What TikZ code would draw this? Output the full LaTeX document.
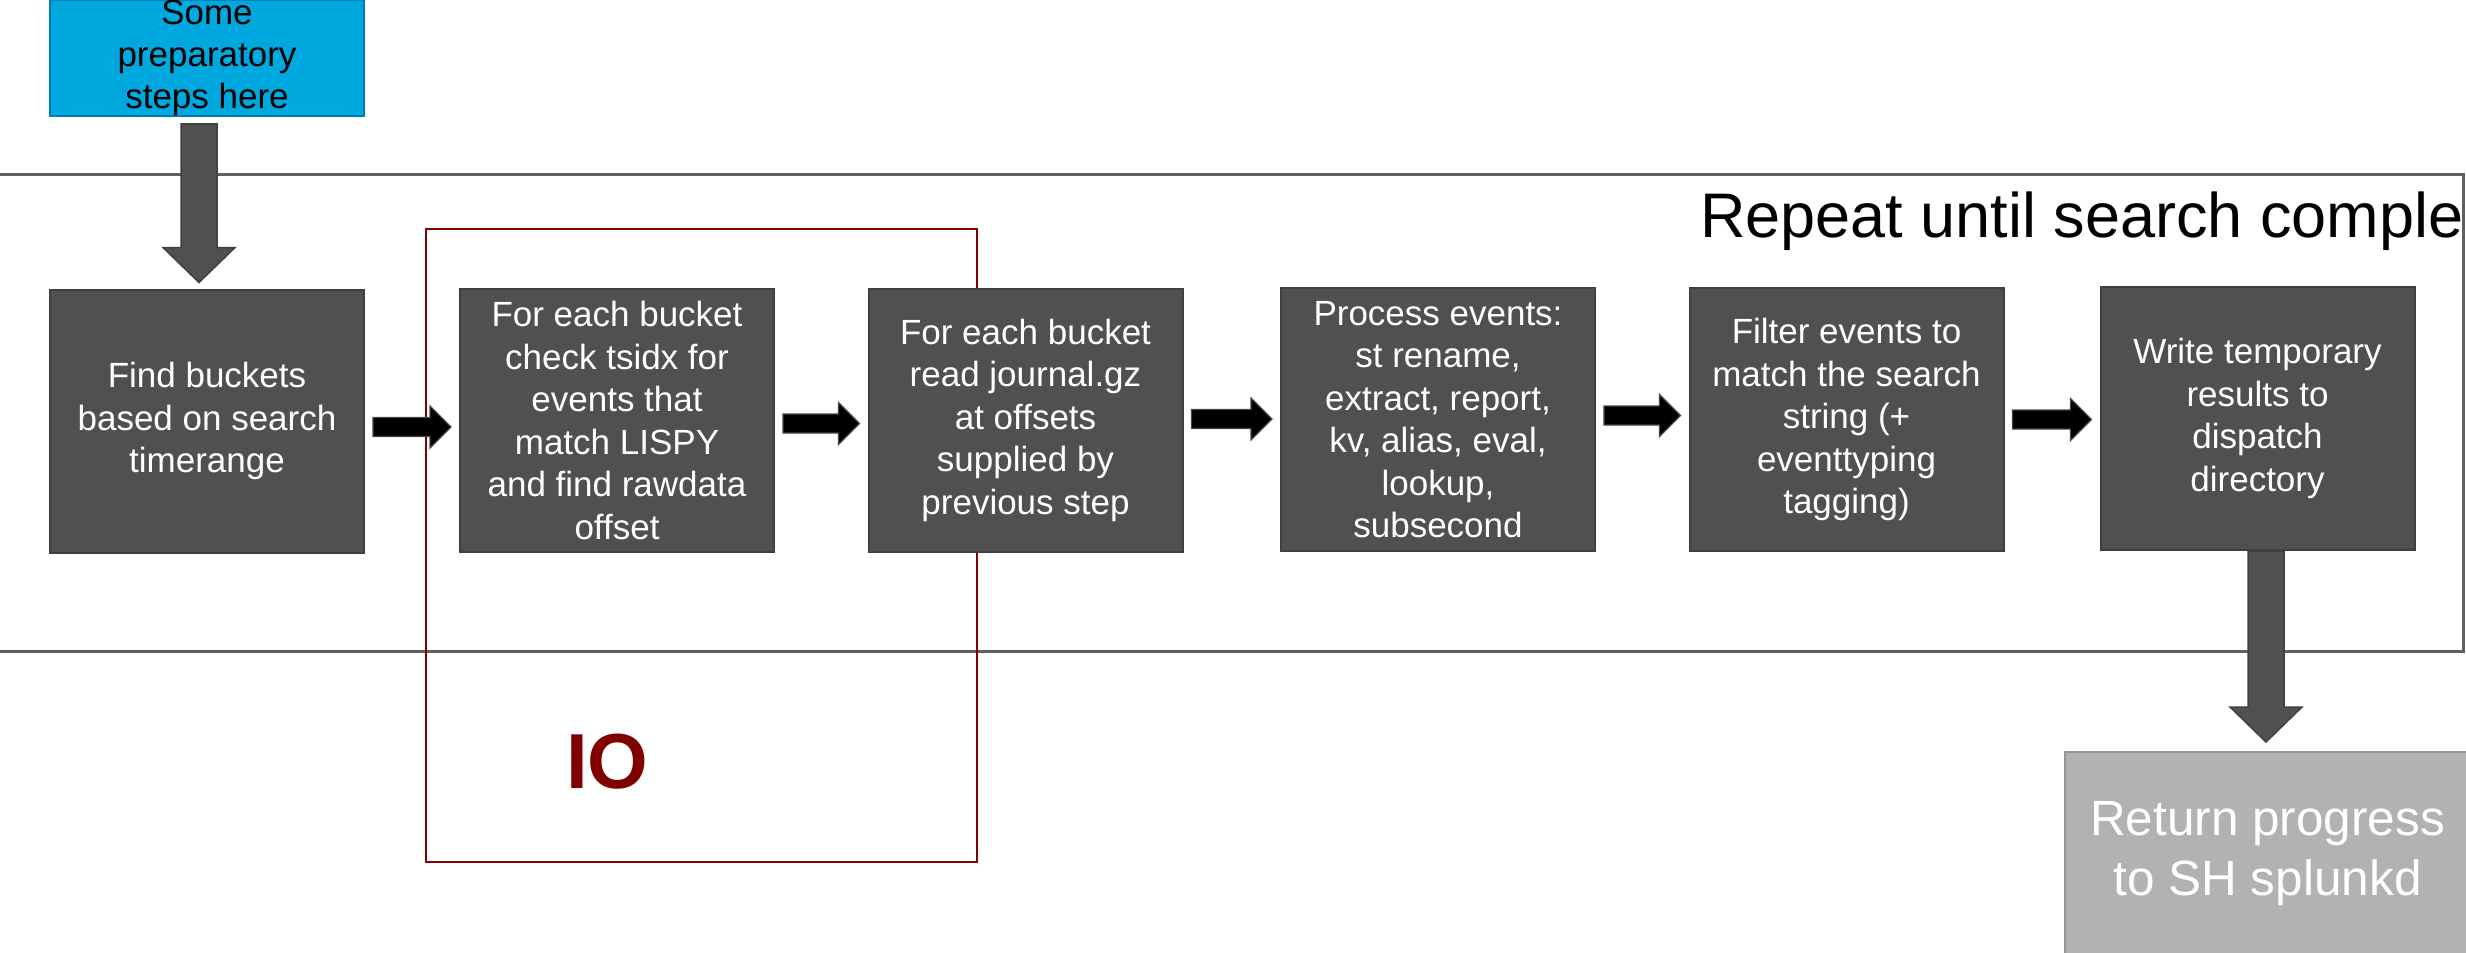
\documentclass[tikz,border=0pt]{standalone}
\usepackage{fontspec}
\setmainfont{Liberation Sans}
\usetikzlibrary{calc}
\definecolor{boxgray}{RGB}{80,80,80}
\definecolor{boxedge}{RGB}{64,64,64}
\definecolor{prepblue}{RGB}{0,168,224}
\definecolor{prepedge}{RGB}{0,128,176}
\definecolor{loopgray}{RGB}{96,96,96}
\definecolor{iored}{RGB}{128,0,0}
\definecolor{retgray}{RGB}{178,178,178}
\definecolor{retedge}{RGB}{150,150,150}
\definecolor{arredge}{RGB}{70,70,70}
% horizontal block arrow from node #1 to node #2, vertical offset #3
\newcommand\hblock[3]{%
  \path[hblk] let \p1=($(#1.east)+(8,#3)$), \p2=($(#2.west)+(-8,#3)$) in
    (\x1,\y1+9.5pt) -- (\x2-21pt,\y1+9.5pt) -- (\x2-21pt,\y1+21pt) -- (\x2,\y1)
    -- (\x2-21pt,\y1-21pt) -- (\x2-21pt,\y1-9.5pt) -- (\x1,\y1-9.5pt) -- cycle;}
% vertical block arrow from node #1 down to node #2, x offset #3, gaps #4 #5
\newcommand\vblock[5]{%
  \path[vblk] let \p1=($(#1.south)+(#3,#4)$), \p2=($(#2.north)+(#3,-#5)$) in
    (\x1-18pt,\y1) -- (\x1-18pt,\y2+35pt) -- (\x1-36pt,\y2+35pt) -- (\x1,\y2)
    -- (\x1+36pt,\y2+35pt) -- (\x1+18pt,\y2+35pt) -- (\x1+18pt,\y1) -- cycle;}
\begin{document}
\begin{tikzpicture}[x=1pt,y=-1pt,
  stepbox/.style={draw=boxedge, fill=boxgray, line width=2pt, text=white,
    minimum width=314pt, minimum height=263pt, inner sep=0pt, align=center,
    font=\fontsize{35}{42.5}\selectfont},
  prepbox/.style={draw=prepedge, fill=prepblue, line width=2pt, text=black,
    minimum width=314pt, minimum height=104pt, inner sep=0pt, align=center,
    font=\fontsize{35}{42}\selectfont},
  retbox/.style={draw=retedge, fill=retgray, line width=2pt, text=white,
    minimum width=405pt, minimum height=204pt, inner sep=0pt, align=center,
    font=\fontsize{49.5}{60}\selectfont},
  hblk/.style={fill=black, draw=arredge, line width=1.2pt},
  vblk/.style={fill=boxgray, draw=boxedge, line width=1.5pt},
  looprect/.style={draw=loopgray, line width=3pt},
  iorect/.style={draw=iored, line width=2.5pt}]
\useasboundingbox (0,0) rectangle (2466,953);
\clip (0,0) rectangle (2466,953);

% repeat loop frame and IO frame
\draw[looprect] (-20,174) rectangle (2463,651);
\draw[iorect] (426,229) rectangle (977,862);

% nodes
\node[prepbox] (prep) at (207,58) {Some\\preparatory\\steps here};
\node[stepbox] (find) at (207,421) {Find buckets\\based on search\\timerange};
\node[stepbox] (tsidx) at (617,420.5) {For each bucket\\check tsidx for\\events that\\match LISPY\\and find rawdata\\offset};
\node[stepbox] (journal) at (1025.5,420) {For each bucket\\read journal.gz\\at offsets\\supplied by\\previous step};
\node[stepbox] (process) at (1438,419.5) {Process events:\\st rename,\\extract, report,\\kv, alias, eval,\\lookup,\\subsecond};
\node[stepbox] (filter) at (1846.5,419.5) {Filter events to\\match the search\\string (+\\eventtyping\\tagging)};
\node[stepbox] (write) at (2257.5,418.5) {Write temporary\\results to\\dispatch\\directory};
\node[retbox] (ret) at (2267.5,854) {Return progress\\to SH splunkd};

% labels
\node[anchor=base west, inner sep=0pt, font=\fontsize{63}{75}\selectfont] (repeat) at (1700,237) {Repeat until search comple};
\node[anchor=base west, inner sep=0pt, text=iored, font=\fontsize{78}{90}\selectfont\bfseries] (io) at (566,788) {IO};

% arrows
\vblock{prep}{find}{-8}{7}{6}
\hblock{find}{tsidx}{6}
\hblock{tsidx}{journal}{3}
\hblock{journal}{process}{-1}
\hblock{process}{filter}{-4}
\hblock{filter}{write}{0}
\vblock{write}{ret}{8.5}{0}{9}
\end{tikzpicture}
\end{document}
